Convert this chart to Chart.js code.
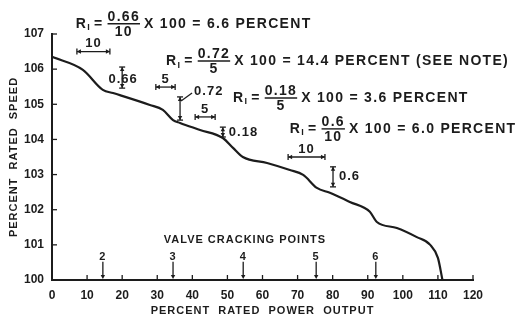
<!DOCTYPE html>
<html>
<head>
<meta charset="utf-8">
<script src="https://cdn.jsdelivr.net/npm/chart.js@4.4.1/dist/chart.umd.min.js"></script>
<style>
  html, body { margin: 0; padding: 0; background: #fff; }
</style>
</head>
<body>
<canvas id="chart" width="522" height="317"></canvas>
<script>

// Speed droop curve
const powerOutput = [0, 8.8, 14.5, 17.4, 27.9, 31.6, 34.5, 36.5, 42.2, 48.7, 51.6, 54.4, 61.3, 67.8, 71.6, 75.5, 79.2, 84.9, 90.6, 92.6, 98.3, 104.0, 107.8, 110.0, 111.3];
const ratedSpeed  = [106.35, 105.98, 105.41, 105.32, 104.98, 104.84, 104.55, 104.47, 104.27, 104.04, 103.76, 103.50, 103.33, 103.13, 102.99, 102.62, 102.48, 102.22, 101.94, 101.65, 101.48, 101.22, 101.00, 100.63, 100.0];

// Tick labels
const xTicks = [0, 10, 20, 30, 40, 50, 60, 70, 80, 90, 100, 110, 120];
const yTicks = [100, 101, 102, 103, 104, 105, 106, 107];

// Valve cracking points
const valveAt     = [14.5, 34.5, 54.5, 75.3, 92.3];
const valveLabels = ["2", "3", "4", "5", "6"];

// Regulation examples: horizontal span, vertical drop, formula
const spanFrom  = [7.1, 29.6, 40.8, 67.3];
const spanTo    = [16.5, 35.1, 46.5, 77.8];
const spanLevel = [106.5, 105.49, 104.64, 103.5];
const spanText  = ["10", "5", "5", "10"];

const dropAt     = [20.0, 36.5, 48.7, 80.1];
const dropTop    = [106.06, 105.21, 104.35, 103.22];
const dropBottom = [105.46, 104.55, 104.07, 102.65];
const dropText   = ["0.66", "0.72", "0.18", "0.6"];

const ratioNum    = ["0.66", "0.72", "0.18", "0.6"];
const ratioDen    = ["10", "5", "5", "10"];
const ratioResult = ["6.6 PERCENT", "14.4 PERCENT (SEE NOTE)", "3.6 PERCENT", "6.0 PERCENT"];
const ratioX      = [6.8, 32.5, 51.6, 67.8];
const ratioY      = [107.29, 106.23, 105.18, 104.3];

const ink = "#1c1c1c";
const FONT = "'Liberation Sans', Arial, sans-serif";

function line(ctx, x1, y1, x2, y2) {
    ctx.beginPath();
    ctx.moveTo(x1, y1);
    ctx.lineTo(x2, y2);
    ctx.stroke();
}

function arrowHead(ctx, x, y, dx, dy) {
    // small filled arrow pointing in (dx, dy)
    const px = -dy, py = dx;
    ctx.beginPath();
    ctx.moveTo(x, y);
    ctx.lineTo(x - dx * 4 + px * 2.2, y - dy * 4 + py * 2.2);
    ctx.lineTo(x - dx * 4 - px * 2.2, y - dy * 4 - py * 2.2);
    ctx.closePath();
    ctx.fill();
}

function drawFormula(ctx, px, py, num, den, result) {
    const big = "bold 14px " + FONT;
    ctx.letterSpacing = "1.3px";
    ctx.textBaseline = "middle";
    ctx.textAlign = "left";
    ctx.font = big;
    let x = px;
    ctx.fillText("R", x, py);
    x += ctx.measureText("R").width;
    ctx.font = "bold 9px " + FONT;
    ctx.fillText("I", x, py + 4);
    x += ctx.measureText("I").width + 3;
    ctx.font = big;
    ctx.fillText("=", x, py);
    x += ctx.measureText("=").width + 4;
    const w = Math.max(ctx.measureText(num).width, ctx.measureText(den).width);
    ctx.textAlign = "center";
    ctx.fillText(num, x + w / 2, py - 7);
    ctx.fillText(den, x + w / 2, py + 8);
    ctx.lineWidth = 1.4;
    line(ctx, x, py, x + w, py);
    x += w + 4;
    ctx.textAlign = "left";
    ctx.fillText("X 100 = " + result, x, py);
}

const annotate = {
    id: "annotate",
    afterDraw(chart) {
        const ctx = chart.ctx;
        const xs = chart.scales.x, ys = chart.scales.y;
        const X = v => xs.getPixelForValue(v);
        const Y = v => ys.getPixelForValue(v);
        const area = chart.chartArea;

        ctx.save();
        ctx.strokeStyle = ink;
        ctx.fillStyle = ink;
        ctx.lineWidth = 1.3;

        // inward ticks
        xTicks.forEach(v => line(ctx, X(v), area.bottom, X(v), area.bottom - 5));
        yTicks.forEach(v => line(ctx, area.left, Y(v), area.left + 5, Y(v)));

        // axis titles
        ctx.font = "bold 11px " + FONT;
        ctx.letterSpacing = "1px";
        ctx.textAlign = "center";
        ctx.textBaseline = "middle";
        ctx.fillText("PERCENT  RATED  POWER  OUTPUT", (area.left + area.right) / 2, 311);
        ctx.save();
        ctx.translate(14, (area.top + area.bottom) / 2);
        ctx.rotate(-Math.PI / 2);
        ctx.fillText("PERCENT  RATED  SPEED", 0, 0);
        ctx.restore();

        // valve cracking points
        ctx.fillText("VALVE CRACKING POINTS", X(55), Y(101.14));
        valveAt.forEach((v, i) => {
            ctx.fillText(valveLabels[i], X(v), Y(100.66));
            line(ctx, X(v), Y(100.52), X(v), area.bottom - 3);
            arrowHead(ctx, X(v), area.bottom - 1, 0, 1);
        });

        // horizontal spans
        ctx.font = "bold 13px " + FONT;
        spanFrom.forEach((a, i) => {
            const x1 = X(a), x2 = X(spanTo[i]), y = Y(spanLevel[i]);
            line(ctx, x1, y, x2, y);
            line(ctx, x1, y - 3, x1, y + 3);
            line(ctx, x2, y - 3, x2, y + 3);
            arrowHead(ctx, x1, y, -1, 0);
            arrowHead(ctx, x2, y, 1, 0);
            ctx.fillText(spanText[i], (x1 + x2) / 2, y - 8);
        });

        // vertical drops
        dropAt.forEach((a, i) => {
            const x = X(a), y1 = Y(dropTop[i]), y2 = Y(dropBottom[i]);
            line(ctx, x, y1, x, y2);
            line(ctx, x - 3, y1, x + 3, y1);
            line(ctx, x - 3, y2, x + 3, y2);
            arrowHead(ctx, x, y1, 0, -1);
            arrowHead(ctx, x, y2, 0, 1);
            if (i === 0) {
                ctx.textAlign = "center";
                ctx.fillText(dropText[i], x + 1, (y1 + y2) / 2 + 2);
            } else if (i === 1) {
                line(ctx, x + 1, y1 + 4, x + 12, y1 - 4);
                ctx.textAlign = "left";
                ctx.fillText(dropText[i], x + 14, y1 - 5);
            } else {
                ctx.textAlign = "left";
                ctx.fillText(dropText[i], x + 6, (y1 + y2) / 2);
            }
        });

        // regulation formulas
        ratioNum.forEach((n, i) => {
            drawFormula(ctx, X(ratioX[i]), Y(ratioY[i]), n, ratioDen[i], ratioResult[i]);
        });

        ctx.restore();
    }
};

new Chart(document.querySelector("#chart").getContext("2d"), {
    type: "scatter",
    data: {
        datasets: [
            {
                data: powerOutput.map((x, i) => ({ x: x, y: ratedSpeed[i] })),
                showLine: true,
                borderColor: ink,
                borderWidth: 2.2,
                pointRadius: 0,
                cubicInterpolationMode: "monotone",
                fill: false,
            }
        ]
    },
    options: {
        responsive: false,
        animation: false,
        devicePixelRatio: 1,
        layout: { padding: { top: 34, right: 49, left: 0, bottom: 0 } },
        plugins: { legend: { display: false }, tooltip: { enabled: false } },
        scales: {
            x: {
                type: "linear",
                min: 0,
                max: 120,
                afterBuildTicks: s => { s.ticks = xTicks.map(v => ({ value: v })); },
                afterFit: s => { s.height = 37; },
                grid: { display: false },
                border: { display: true, color: ink, width: 2 },
                ticks: { color: ink, padding: 0, maxRotation: 0, font: { family: FONT, size: 12, weight: "bold" } },
            },
            y: {
                type: "linear",
                min: 100,
                max: 107,
                afterBuildTicks: s => { s.ticks = yTicks.map(v => ({ value: v })); },
                afterFit: s => { s.width = 52; },
                grid: { display: false },
                border: { display: true, color: ink, width: 2 },
                ticks: { color: ink, padding: 0, font: { family: FONT, size: 12, weight: "bold" } },
            }
        }
    },
    plugins: [annotate]
});
</script>
</body>
</html>
